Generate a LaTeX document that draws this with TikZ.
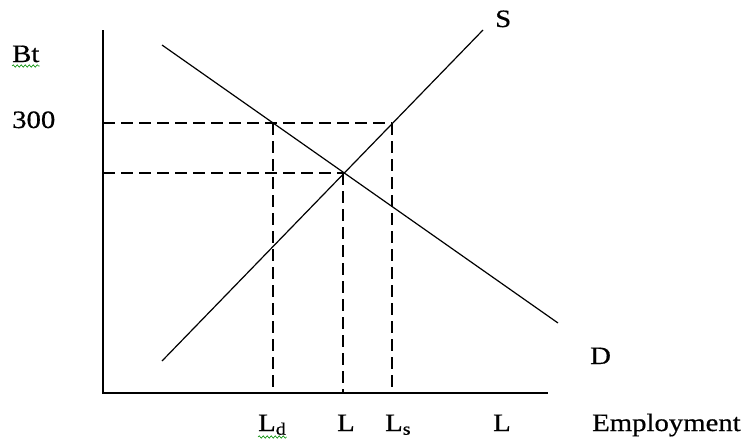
\documentclass[tikz,border=0pt]{standalone}
\usepackage{fontspec}
\setmainfont{Liberation Serif}[FakeStretch=1.15,FakeBold=0.6]
\usepackage{xcolor}
\usetikzlibrary{decorations.pathmorphing}

\begin{document}
\begin{tikzpicture}[x=1pt,y=-1pt, axis/.style={line width=1.4pt}, curve/.style={line width=1.2pt}, guide/.style={line width=1.2pt,dash pattern=on 12pt off 6pt}, lab/.style={inner sep=0pt,anchor=base west,font=\fontsize{25}{27}\selectfont}, squig/.style={green!55!black,line width=0.6pt,decorate,decoration={snake,amplitude=1.2pt,segment length=4pt}}]
\useasboundingbox (0,0) rectangle (747,440);
% axes
\coordinate (origin) at (103,393);
\coordinate (ytop) at (103,30);
\coordinate (xend) at (548,393);
\draw[axis] (ytop) -- (origin) -- (xend);
% demand and supply
\coordinate (dstart) at (162,45);
\coordinate (dend) at (558,323);
\coordinate (sstart) at (162,361);
\coordinate (send) at (483,30);
\draw[curve] (dstart) -- (dend);
\draw[curve] (sstart) -- (send);
% price levels
\coordinate (wage) at (103,123);
\coordinate (weq) at (103,173);
\coordinate (dq) at (273,123);
\coordinate (sq) at (392,123);
\coordinate (eq) at (343,173);
\coordinate (ldfoot) at (273,393);
\coordinate (lfoot) at (343,393);
\coordinate (lsfoot) at (392,393);
\draw[guide] (wage) -- (sq);
\draw[guide] (weq) -- (eq);
\draw[guide] (dq) -- (ldfoot);
\draw[guide] (eq) -- (lfoot);
\draw[guide] (sq) -- (lsfoot);
% labels
\node[lab] (bt) at (12,62) {Bt};
\node[lab] (v300) at (12,128) {300};
\node[lab] (slab) at (495,27) {S};
\node[lab] (dlab) at (590,364) {D};
\node[lab] (ld) at (258,431) {L\textsubscript{d}};
\node[lab] (leq) at (337,431) {L};
\node[lab] (ls) at (385,431) {L\textsubscript{s}};
\node[lab] (lax) at (493,431) {L};
\node[lab] (emp) at (592,431) {Employment};
\draw[squig] ([yshift=-4pt]bt.base west) -- ([yshift=-4pt]bt.base east);
\draw[squig] ([yshift=-6pt]ld.base west) -- ([yshift=-6pt]ld.base east);
\end{tikzpicture}
\end{document}
